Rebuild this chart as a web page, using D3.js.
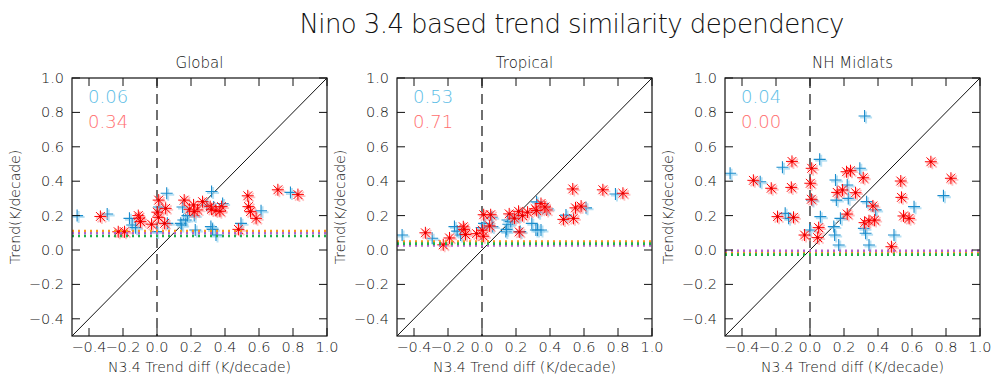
<!DOCTYPE html>
<html>
<head>
<meta charset="utf-8">
<script src="https://cdn.jsdelivr.net/npm/d3@7"></script>
<style>
  html, body { margin: 0; padding: 0; background: #fff; }
  svg { display: block; }
  text { font-family: "DejaVu Sans", sans-serif; font-weight: 200; fill: #111; }
</style>
</head>
<body>
<script>
// Regions shown side by side
const regions = ["Global", "Tropical", "NH Midlats"];

// Red asterisks: N3.4 trend difference (shared) and regional trends
const redX        = [-0.333, -0.228, -0.191, -0.110, -0.106, -0.097, -0.032, 0.010, 0.002, 0.008, 0.051, 0.045, 0.160, 0.191, 0.215, 0.238, 0.268, 0.219, 0.313, 0.321, 0.347, 0.380, 0.370, 0.479, 0.534, 0.538, 0.550, 0.583, 0.711, 0.829];
const redGlobal   = [0.195, 0.106, 0.106, 0.200, 0.185, 0.165, 0.150, 0.290, 0.220, 0.190, 0.242, 0.155, 0.290, 0.237, 0.262, 0.233, 0.281, 0.223, 0.252, 0.237, 0.229, 0.252, 0.225, 0.120, 0.315, 0.252, 0.223, 0.184, 0.350, 0.322];
const redTropical = [0.100, 0.030, 0.070, 0.135, 0.120, 0.090, 0.095, 0.205, 0.115, 0.080, 0.205, 0.140, 0.210, 0.185, 0.225, 0.200, 0.220, 0.105, 0.240, 0.230, 0.270, 0.233, 0.250, 0.178, 0.355, 0.184, 0.245, 0.255, 0.350, 0.330];
const redNH       = [0.405, 0.359, 0.194, 0.364, 0.515, 0.190, 0.087, 0.475, 0.388, 0.295, 0.130, 0.072, 0.335, 0.349, 0.455, 0.461, 0.333, 0.209, 0.420, 0.159, 0.170, 0.174, 0.256, 0.019, 0.401, 0.306, 0.198, 0.184, 0.513, 0.417];

// Blue crosses
const blueX        = [-0.470, -0.293, -0.162, -0.146, -0.126, 0.057, 0.012, -0.002, 0.061, 0.150, 0.219, 0.155, 0.225, 0.140, 0.145, 0.169, 0.179, 0.293, 0.321, 0.333, 0.317, 0.327, 0.347, 0.386, 0.494, 0.612, 0.785];
const blueGlobal   = [0.200, 0.209, 0.184, 0.145, 0.130, 0.330, 0.250, 0.107, 0.155, 0.250, 0.200, 0.174, 0.116, 0.155, 0.145, 0.174, 0.200, 0.260, 0.340, 0.250, 0.136, 0.120, 0.087, 0.270, 0.155, 0.228, 0.335];
const blueTropical = [0.087, 0.068, 0.136, 0.110, 0.087, 0.190, 0.155, 0.130, 0.136, 0.174, 0.200, 0.150, 0.107, 0.107, 0.120, 0.165, 0.180, 0.155, 0.280, 0.220, 0.116, 0.116, 0.116, 0.240, 0.203, 0.245, 0.326];
const blueNH       = [0.446, 0.397, 0.481, 0.213, 0.184, 0.527, 0.290, 0.116, 0.194, 0.407, 0.378, 0.290, 0.300, 0.136, 0.087, 0.029, 0.184, 0.475, 0.779, 0.281, 0.126, 0.097, 0.029, 0.233, 0.087, 0.252, 0.316];

// Correlation annotations
const corrBlue = ["0.06", "0.53", "0.04"];
const corrRed  = ["0.34", "0.71", "0.00"];

// Reference trend levels (dotted lines)
const refOrange = [0.110, 0.049, -0.015];
const refPurple = [0.097, 0.027, -0.004];
const refGreen  = [0.081, 0.037, -0.027];

// Axis ticks
const tickValues = [-0.4, -0.2, 0.0, 0.2, 0.4, 0.6, 0.8, 1.0];

const redY  = [redGlobal, redTropical, redNH];
const blueY = [blueGlobal, blueTropical, blueNH];

const W = 1000, H = 377;
const svg = d3.select("body").append("svg").attr("width", W).attr("height", H);

svg.append("text")
  .attr("x", 572).attr("y", 33)
  .attr("text-anchor", "middle")
  .style("font-size", "26px")
  .attr("textLength", 545).attr("lengthAdjust", "spacing")
  .text("Nino 3.4 based trend similarity dependency");

const plotLefts = [72, 397, 725];
const pw = 255, ph = 258, plotTop = 78;
const fmt = v => (v < 0 ? "\u2212" : "") + Math.abs(v).toFixed(1);

const colors = {
  red: "#ff0000", redLight: "#ff9a9a",
  blue: "#1a8ccc", blueLight: "#9ad4ef",
  orange: "#f7941d", purple: "#b460c8", green: "#1fb24a"
};

regions.forEach((name, i) => {
  const g = svg.append("g").attr("transform", `translate(${plotLefts[i]},${plotTop})`);
  const x = d3.scaleLinear().domain([-0.5, 1.0]).range([0, pw]);
  const y = d3.scaleLinear().domain([-0.5, 1.0]).range([ph, 0]);

  const clip = "clip" + i;
  g.append("clipPath").attr("id", clip).append("rect").attr("width", pw).attr("height", ph);
  const plot = g.append("g").attr("clip-path", `url(#${clip})`);

  // 1:1 line
  plot.append("line")
    .attr("x1", x(-0.5)).attr("y1", y(-0.5)).attr("x2", x(1.0)).attr("y2", y(1.0))
    .attr("stroke", "#111").attr("stroke-width", 1);

  // zero line
  plot.append("line")
    .attr("x1", x(0)).attr("x2", x(0)).attr("y1", y(1.0)).attr("y2", y(-0.5))
    .attr("stroke", "#111").attr("stroke-width", 1.2).attr("stroke-dasharray", "10,6");

  // blue crosses
  const bpts = blueX.map((v, k) => [x(v), y(blueY[i][k])]);
  const cross = (s, dx, dy, col, op, sw) => s.append("path")
    .attr("d", d => { const cx = d[0] + dx, cy = d[1] + dy, r = 6;
      return `M${cx - r},${cy}H${cx + r}M${cx},${cy - r}V${cy + r}`; })
    .attr("stroke", col).attr("stroke-width", sw).attr("fill", "none").attr("opacity", op);
  const bg = plot.append("g").selectAll("g").data(bpts).join("g");
  cross(bg, 1.5, 1.5, colors.blueLight, 0.7, 2);
  cross(bg, 0, 0, colors.blue, 1, 1.1);

  // red asterisks
  const rpts = redX.map((v, k) => [x(v), y(redY[i][k])]);
  const star = (s, dx, dy, col, op, sw) => s.append("path")
    .attr("d", d => { const cx = d[0] + dx, cy = d[1] + dy, r = 6, q = 4.4;
      return `M${cx - r},${cy}H${cx + r}M${cx},${cy - r}V${cy + r}` +
             `M${cx - q},${cy - q}L${cx + q},${cy + q}M${cx - q},${cy + q}L${cx + q},${cy - q}`; })
    .attr("stroke", col).attr("stroke-width", sw).attr("fill", "none").attr("opacity", op);
  const rg = plot.append("g").selectAll("g").data(rpts).join("g");
  star(rg, 1.5, 1.5, colors.redLight, 0.6, 1.8);
  star(rg, 0, 0, colors.red, 1, 1);
  rg.append("circle").attr("cx", d => d[0]).attr("cy", d => d[1]).attr("r", 1.3).attr("fill", "#e00000");

  // dotted reference levels
  [[refOrange, colors.orange], [refPurple, colors.purple], [refGreen, colors.green]].forEach(([arr, col]) => {
    plot.append("line")
      .attr("x1", 0).attr("x2", pw).attr("y1", y(arr[i])).attr("y2", y(arr[i]))
      .attr("stroke", col).attr("stroke-width", 2.6).attr("stroke-dasharray", "2,4");
  });

  // frame and inward ticks
  g.append("rect").attr("width", pw).attr("height", ph)
    .attr("fill", "none").attr("stroke", "#111").attr("stroke-width", 1.2);
  const tl = 8;
  tickValues.forEach(t => {
    g.append("line").attr("x1", 0).attr("x2", tl).attr("y1", y(t)).attr("y2", y(t)).attr("stroke", "#111");
    g.append("line").attr("x1", pw - tl).attr("x2", pw).attr("y1", y(t)).attr("y2", y(t)).attr("stroke", "#111");
    g.append("line").attr("y1", ph).attr("y2", ph - tl).attr("x1", x(t)).attr("x2", x(t)).attr("stroke", "#111");
    g.append("line").attr("y1", 0).attr("y2", tl).attr("x1", x(t)).attr("x2", x(t)).attr("stroke", "#111");
  });

  // tick labels
  g.append("g").selectAll("text").data(tickValues).join("text")
    .attr("x", -8).attr("y", d => y(d) + 5)
    .attr("text-anchor", "end").style("font-size", "14.5px")
    .text(fmt);
  g.append("g").selectAll("text").data(tickValues).join("text")
    .attr("x", d => x(d)).attr("y", ph + 16)
    .attr("text-anchor", "middle").style("font-size", "14.5px")
    .text(fmt);

  // titles
  g.append("text").attr("x", pw / 2).attr("y", -10)
    .attr("text-anchor", "middle").style("font-size", "15px").text(name);
  g.append("text").attr("x", pw / 2).attr("y", ph + 36)
    .attr("text-anchor", "middle").style("font-size", "14px").text("N3.4 Trend diff (K/decade)");
  g.append("text")
    .attr("transform", `translate(-52,${ph / 2}) rotate(-90)`)
    .attr("text-anchor", "middle").style("font-size", "14px").text("Trend(K/decade)");

  // correlation annotations
  g.append("text").attr("x", 16).attr("y", 25).style("font-size", "18px")
    .style("fill", "#5bbde6").text(corrBlue[i]);
  g.append("text").attr("x", 16).attr("y", 50).style("font-size", "18px")
    .style("fill", "#ff6e6e").text(corrRed[i]);
});
</script>
</body>
</html>
